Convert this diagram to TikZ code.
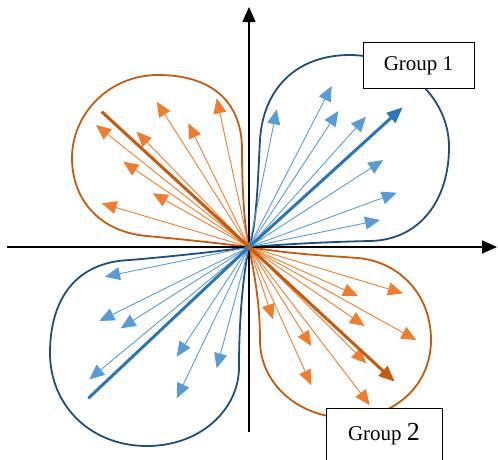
\documentclass[tikz,border=0pt]{standalone}
\usepackage{fontspec}
\setmainfont{Liberation Serif}
\usetikzlibrary{arrows.meta}
\definecolor{lblue}{HTML}{5B9BD5}
\definecolor{tblue}{HTML}{2E75B6}
\definecolor{dblue}{HTML}{1F4E79}
\definecolor{lorange}{HTML}{ED7D31}
\definecolor{dorange}{HTML}{C55A11}
\tikzset{
  axis/.style={line width=1.6pt, -{Triangle[length=15pt,width=13pt]}},
  barrow/.style={lblue, line width=0.9pt, -{Triangle[length=15pt,width=13pt]}},
  oarrow/.style={lorange, line width=0.9pt, -{Triangle[length=15pt,width=13pt]}},
  lobe/.style={line width=1.8pt},
  grp/.style={draw, fill=white, line width=0.8pt, inner sep=0pt, font=\fontsize{21}{24}\selectfont}
}
\begin{document}
\begin{tikzpicture}[x=1pt,y=-1pt]
\useasboundingbox (0,0) rectangle (498,459);
\coordinate (O) at (249,247);
\coordinate (xl) at (7,247);
\coordinate (xr) at (497,247);
\coordinate (yt) at (249,7);
\coordinate (yb) at (249,432);
% lobes
\draw[lobe, dblue] (O) .. controls (257,225) and (258,175) .. (260,140)
  .. controls (263,90) and (295,55) .. (350,55)
  .. controls (400,55) and (449,95) .. (449,147)
  .. controls (449,200) and (420,240) .. (370,241)
  .. controls (320,242) and (275,245) .. (O);
\draw[lobe, dorange] (O) .. controls (244,225) and (242,185) .. (242,150)
  .. controls (242,100) and (210,75) .. (158,75)
  .. controls (108,75) and (72,115) .. (72,158)
  .. controls (72,200) and (100,232) .. (147,236)
  .. controls (190,240) and (225,244) .. (O);
\draw[lobe, dblue] (O) .. controls (215,252) and (165,257) .. (130,260)
  .. controls (75,262) and (50,300) .. (50,353)
  .. controls (50,405) and (90,446) .. (147,446)
  .. controls (200,446) and (239,410) .. (239,367)
  .. controls (239,320) and (243,275) .. (O);
\draw[lobe, dorange] (O) .. controls (290,254) and (330,256) .. (358,258)
  .. controls (400,262) and (431,295) .. (431,340)
  .. controls (431,385) and (395,418) .. (348,418)
  .. controls (300,418) and (260,385) .. (260,340)
  .. controls (260,300) and (253,268) .. (O);
% axes
\draw[axis] (xl) -- (xr);
\draw[axis] (yb) -- (yt);
% group 1 arrows
\foreach \x/\y [count=\i] in {276.7/109.3, 331.7/86, 338.3/111, 366/116.7, 383.3/160, 396.7/192.7, 380/220}{
  \coordinate (b\i) at (\x,\y);
  \draw[barrow] (O) -- (b\i);
}
\coordinate (bt1) at (402.7,107.3);
\draw[tblue, line width=3pt, -{Triangle[length=16pt,width=13pt]}] (O) -- (bt1);
% upper-left orange
\foreach \x/\y [count=\i] in {216.7/98.3, 156.7/101.7, 188.3/123.3, 136.7/131.7, 96/125, 123.3/161.7, 152.7/193.3, 101.7/203.3}{
  \coordinate (o\i) at (\x,\y);
  \draw[oarrow] (O) -- (o\i);
}
\coordinate (ot1) at (101.7,111.7);
\draw[dorange, line width=3pt] (O) -- (ot1);
% lower-left blue
\foreach \x/\y [count=\i] in {105/276.7, 99.3/321, 120.7/328.3, 89.3/379.3, 176.7/356.7, 176.7/398.3, 216.7/368.3}{
  \coordinate (c\i) at (\x,\y);
  \draw[barrow] (O) -- (c\i);
}
\coordinate (ct1) at (88.3,398.3);
\draw[tblue, line width=3pt] (O) -- (ct1);
% lower-right orange
\foreach \x/\y [count=\i] in {358/296, 403/293.3, 364.7/326, 416.3/340, 273/319.3, 311.3/346, 366.3/363.3, 311.3/385, 369.7/405}{
  \coordinate (d\i) at (\x,\y);
  \draw[oarrow] (O) -- (d\i);
}
\coordinate (dt1) at (394.7,381.7);
\draw[dorange, line width=3pt, -{Triangle[length=16pt,width=13pt]}] (O) -- (dt1);
% group boxes
\node[grp, minimum width=111pt, minimum height=46pt] (g1) at (418.5,65.5) {Group 1};
\node[grp, minimum width=116pt, minimum height=52pt] (g2) at (384,434) {Group \fontsize{26}{29}\selectfont 2};
\end{tikzpicture}
\end{document}
